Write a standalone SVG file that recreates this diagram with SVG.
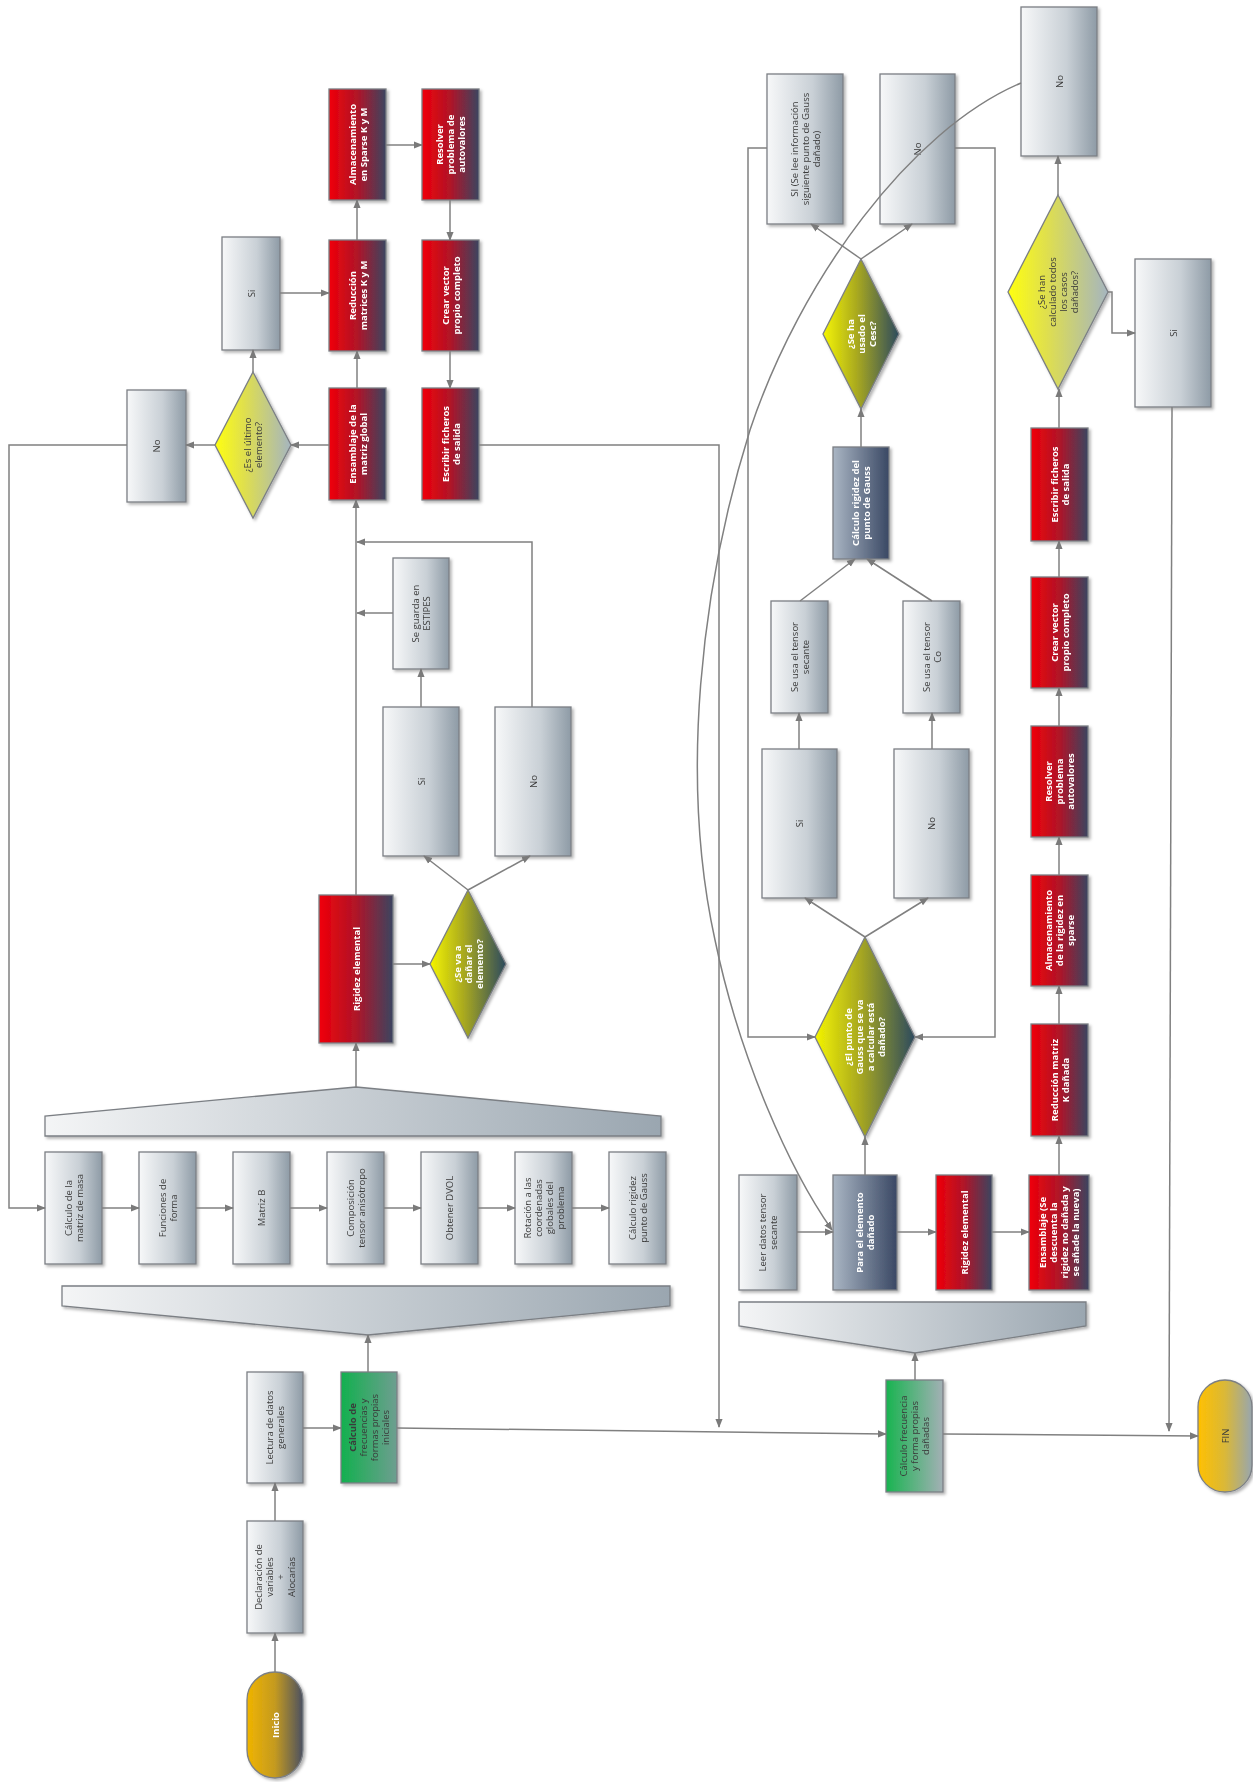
<svg xmlns="http://www.w3.org/2000/svg" width="1253" height="1782" viewBox="0 0 1253 1782">
<defs>
<style>
.b{stroke:#7b7f84;stroke-width:1.3}
.gy{fill:url(#gGray)}.rd{fill:url(#gRed)}.gn1{fill:url(#gGreen1)}.gn2{fill:url(#gGreen2)}
.ol{fill:url(#gOlive)}.ye{fill:url(#gYel)}.bl{fill:url(#gBlue)}.tp{fill:url(#gTrap)}
.c{fill:none;stroke:#808080;stroke-width:1.5;marker-end:url(#ar)}
.l{fill:none;stroke:#808080;stroke-width:1.5}
.t{font-family:"Open Sans","Liberation Sans",sans-serif;font-size:9.5px;fill:#3a3a3a;text-anchor:middle}
.w{fill:#ffffff;font-weight:bold}
.sh{filter:url(#sh)}
</style>
<marker id="ar" viewBox="0 0 10 10" refX="9" refY="5" markerWidth="6" markerHeight="6" orient="auto"><path d="M0,1 L10,5 L0,9 z" fill="#7a7a7a"/></marker>
<filter id="sh" x="-15%" y="-15%" width="140%" height="140%"><feDropShadow dx="2" dy="2" stdDeviation="1.5" flood-color="#000" flood-opacity="0.3"/></filter>
<linearGradient id="gGray"><stop offset="0" stop-color="#f7f8f9"/><stop offset="0.6" stop-color="#c9d0d6"/><stop offset="1" stop-color="#8e9ba6"/></linearGradient>
<linearGradient id="gRed"><stop offset="0" stop-color="#f00008"/><stop offset="0.5" stop-color="#b01428"/><stop offset="1" stop-color="#3a4560"/></linearGradient>
<linearGradient id="gGreen1"><stop offset="0" stop-color="#12b04e"/><stop offset="1" stop-color="#6e9e90"/></linearGradient>
<linearGradient id="gGreen2"><stop offset="0" stop-color="#18b450"/><stop offset="1" stop-color="#a3b0b5"/></linearGradient>
<linearGradient id="gOlive"><stop offset="0" stop-color="#f5f500"/><stop offset="0.45" stop-color="#a8a820"/><stop offset="1" stop-color="#2c4a5e"/></linearGradient>
<linearGradient id="gYel"><stop offset="0" stop-color="#ffff10"/><stop offset="0.4" stop-color="#dede50"/><stop offset="1" stop-color="#a5b5c0"/></linearGradient>
<linearGradient id="gBlue"><stop offset="0" stop-color="#aab6c4"/><stop offset="1" stop-color="#3a4864"/></linearGradient>
<linearGradient id="gIni"><stop offset="0" stop-color="#f0b400"/><stop offset="0.5" stop-color="#c49a20"/><stop offset="1" stop-color="#4a5062"/></linearGradient>
<linearGradient id="gFin"><stop offset="0" stop-color="#ffc000"/><stop offset="0.5" stop-color="#dab838"/><stop offset="1" stop-color="#98a6ae"/></linearGradient>
<linearGradient id="gTrap"><stop offset="0" stop-color="#f4f5f6"/><stop offset="1" stop-color="#9aa6b0"/></linearGradient>
</defs>
<rect width="1253" height="1782" fill="#ffffff"/>

<g id="inicio" class="sh"><rect class="b" x="247" y="1672" width="56" height="106" rx="28" fill="url(#gIni)"/>
<text class="t w" transform="translate(275,1725) rotate(-90)"><tspan x="0" y="3.5">Inicio</tspan></text></g>
<g id="declaracion" class="sh"><rect class="b gy" x="247" y="1521" width="56" height="112"/>
<text class="t" transform="translate(275,1577) rotate(-90)"><tspan x="0" y="-13">Declaración de</tspan><tspan x="0" y="-2">variables</tspan><tspan x="0" y="9">+</tspan><tspan x="0" y="20">Alocarías</tspan></text></g>
<g id="lectura" class="sh"><rect class="b gy" x="247" y="1372" width="56" height="111"/>
<text class="t" transform="translate(275,1427.5) rotate(-90)"><tspan x="0" y="-2">Lectura de datos</tspan><tspan x="0" y="9">generales</tspan></text></g>
<g id="calculo-inicial" class="sh"><rect class="b gn1" x="341" y="1372" width="56" height="111"/>
<text class="t" transform="translate(369,1427.5) rotate(-90)"><tspan x="0" y="-13" font-weight="bold">Cálculo de</tspan><tspan x="0" y="-2">frecuencias y</tspan><tspan x="0" y="9">formas propias</tspan><tspan x="0" y="20">iniciales</tspan></text></g>
<g id="trap-1" class="sh"><polygon class="b tp" points="62,1286 670,1286 670,1306 368,1335 62,1306"/></g>
<g id="trap-0" class="sh"><polygon class="b tp" points="45,1136 45,1116 356,1087 661,1116 661,1136"/></g>

<g id="masa" class="sh"><rect class="b gy" x="45" y="1152" width="57" height="112"/>
<text class="t" transform="translate(73.5,1208) rotate(-90)"><tspan x="0" y="-2">Cálculo de la</tspan><tspan x="0" y="9">matriz de masa</tspan></text></g>
<g id="funciones" class="sh"><rect class="b gy" x="139" y="1152" width="57" height="112"/>
<text class="t" transform="translate(167.5,1208) rotate(-90)"><tspan x="0" y="-2">Funciones de</tspan><tspan x="0" y="9">forma</tspan></text></g>
<g id="matrizb" class="sh"><rect class="b gy" x="233" y="1152" width="57" height="112"/>
<text class="t" transform="translate(261.5,1208) rotate(-90)"><tspan x="0" y="3.5">Matriz B</tspan></text></g>
<g id="composicion" class="sh"><rect class="b gy" x="327" y="1152" width="57" height="112"/>
<text class="t" transform="translate(355.5,1208) rotate(-90)"><tspan x="0" y="-2">Composición</tspan><tspan x="0" y="9">tensor anisótropo</tspan></text></g>
<g id="dvol" class="sh"><rect class="b gy" x="421" y="1152" width="57" height="112"/>
<text class="t" transform="translate(449.5,1208) rotate(-90)"><tspan x="0" y="3.5">Obtener DVOL</tspan></text></g>
<g id="rotacion" class="sh"><rect class="b gy" x="515" y="1152" width="57" height="112"/>
<text class="t" transform="translate(543.5,1208) rotate(-90)"><tspan x="0" y="-13">Rotación a las</tspan><tspan x="0" y="-2">coordenadas</tspan><tspan x="0" y="9">globales del</tspan><tspan x="0" y="20">problema</tspan></text></g>
<g id="rigidez-gauss" class="sh"><rect class="b gy" x="609" y="1152" width="57" height="112"/>
<text class="t" transform="translate(637.5,1208) rotate(-90)"><tspan x="0" y="-2">Cálculo rigidez</tspan><tspan x="0" y="9">punto de Gauss</tspan></text></g>

<g id="rigidez-el" class="sh"><rect class="b rd" x="319" y="895" width="74" height="148"/>
<text class="t w" transform="translate(356,969) rotate(-90)"><tspan x="0" y="3.5">Rigidez elemental</tspan></text></g>
<g id="danar" class="sh"><polygon class="b ol" points="468,890 506,964 468,1038 430,964"/>
<text class="t w" transform="translate(468,964) rotate(-90)"><tspan x="0" y="-7.5">¿Se va a</tspan><tspan x="0" y="3.5">dañar el</tspan><tspan x="0" y="14.5">elemento?</tspan></text></g>
<g id="si-danar" class="sh"><rect class="b gy" x="383" y="707" width="76" height="149"/>
<text class="t" transform="translate(421,781.5) rotate(-90)"><tspan x="0" y="3.5">Si</tspan></text></g>
<g id="no-danar" class="sh"><rect class="b gy" x="495" y="707" width="76" height="149"/>
<text class="t" transform="translate(533,781.5) rotate(-90)"><tspan x="0" y="3.5">No</tspan></text></g>
<g id="estipes" class="sh"><rect class="b gy" x="393" y="558" width="56" height="111"/>
<text class="t" transform="translate(421,613.5) rotate(-90)"><tspan x="0" y="-2">Se guarda en</tspan><tspan x="0" y="9">ESTIPES</tspan></text></g>

<g id="ensamblaje" class="sh"><rect class="b rd" x="329" y="388" width="57" height="112"/>
<text class="t w" transform="translate(357.5,444) rotate(-90)"><tspan x="0" y="-2">Ensamblaje de la</tspan><tspan x="0" y="9">matriz global</tspan></text></g>
<g id="reduccion" class="sh"><rect class="b rd" x="329" y="240" width="57" height="111"/>
<text class="t w" transform="translate(357.5,295.5) rotate(-90)"><tspan x="0" y="-2">Reducción</tspan><tspan x="0" y="9">matrices K y M</tspan></text></g>
<g id="almacenamiento" class="sh"><rect class="b rd" x="329" y="89" width="57" height="111"/>
<text class="t w" transform="translate(357.5,144.5) rotate(-90)"><tspan x="0" y="-2">Almacenamiento</tspan><tspan x="0" y="9">en Sparse K y M</tspan></text></g>
<g id="resolver" class="sh"><rect class="b rd" x="422" y="89" width="57" height="111"/>
<text class="t w" transform="translate(450.5,144.5) rotate(-90)"><tspan x="0" y="-7.5">Resolver</tspan><tspan x="0" y="3.5">problema de</tspan><tspan x="0" y="14.5">autovalores</tspan></text></g>
<g id="crear" class="sh"><rect class="b rd" x="422" y="240" width="57" height="111"/>
<text class="t w" transform="translate(450.5,295.5) rotate(-90)"><tspan x="0" y="-2">Crear vector</tspan><tspan x="0" y="9">propio completo</tspan></text></g>
<g id="escribir" class="sh"><rect class="b rd" x="422" y="388" width="57" height="112"/>
<text class="t w" transform="translate(450.5,444) rotate(-90)"><tspan x="0" y="-2">Escribir ficheros</tspan><tspan x="0" y="9">de salida</tspan></text></g>
<g id="ultimo" class="sh"><polygon class="b ye" points="253,372 291,445 253,518 215,445"/>
<text class="t" transform="translate(253,445) rotate(-90)"><tspan x="0" y="-2">¿Es el último</tspan><tspan x="0" y="9">elemento?</tspan></text></g>
<g id="si-ultimo" class="sh"><rect class="b gy" x="222" y="237" width="58" height="113"/>
<text class="t" transform="translate(251,293.5) rotate(-90)"><tspan x="0" y="3.5">Si</tspan></text></g>
<g id="no-ultimo" class="sh"><rect class="b gy" x="127" y="390" width="59" height="112"/>
<text class="t" transform="translate(156.5,446) rotate(-90)"><tspan x="0" y="3.5">No</tspan></text></g>

<g id="calculo-danadas" class="sh"><rect class="b gn2" x="886" y="1380" width="57" height="112"/>
<text class="t" transform="translate(914.5,1436) rotate(-90)"><tspan x="0" y="-7.5">Cálculo frecuencia</tspan><tspan x="0" y="3.5">y forma propias</tspan><tspan x="0" y="14.5">dañadas</tspan></text></g>
<g id="trap-2" class="sh"><polygon class="b tp" points="739,1302 1086,1302 1086,1326 915,1353 739,1326"/></g>
<g id="leer" class="sh"><rect class="b gy" x="739" y="1175" width="58" height="115"/>
<text class="t" transform="translate(768,1232.5) rotate(-90)"><tspan x="0" y="-2">Leer datos tensor</tspan><tspan x="0" y="9">secante</tspan></text></g>
<g id="para" class="sh"><rect class="b bl" x="833" y="1175" width="64" height="115"/>
<text class="t w" transform="translate(865,1232.5) rotate(-90)"><tspan x="0" y="-2">Para el elemento</tspan><tspan x="0" y="9">dañado</tspan></text></g>
<g id="rigidez-el-2" class="sh"><rect class="b rd" x="936" y="1175" width="56" height="115"/>
<text class="t w" transform="translate(964,1232.5) rotate(-90)"><tspan x="0" y="3.5">Rigidez elemental</tspan></text></g>
<g id="ensamblaje-2" class="sh"><rect class="b rd" x="1029" y="1175" width="60" height="115"/>
<text class="t w" transform="translate(1059,1232.5) rotate(-90)"><tspan x="0" y="-13">Ensamblaje (Se</tspan><tspan x="0" y="-2">descuenta la</tspan><tspan x="0" y="9">rigidez no dañada y</tspan><tspan x="0" y="20">se añade la nueva)</tspan></text></g>
<g id="reduccion-2" class="sh"><rect class="b rd" x="1031" y="1024" width="57" height="112"/>
<text class="t w" transform="translate(1059.5,1080) rotate(-90)"><tspan x="0" y="-2">Reducción matriz</tspan><tspan x="0" y="9">K dañada</tspan></text></g>
<g id="almacenamiento-2" class="sh"><rect class="b rd" x="1031" y="875" width="57" height="111"/>
<text class="t w" transform="translate(1059.5,930.5) rotate(-90)"><tspan x="0" y="-7.5">Almacenamiento</tspan><tspan x="0" y="3.5">de la rigidez en</tspan><tspan x="0" y="14.5">sparse</tspan></text></g>
<g id="resolver-2" class="sh"><rect class="b rd" x="1031" y="726" width="57" height="111"/>
<text class="t w" transform="translate(1059.5,781.5) rotate(-90)"><tspan x="0" y="-7.5">Resolver</tspan><tspan x="0" y="3.5">problema</tspan><tspan x="0" y="14.5">autovalores</tspan></text></g>
<g id="crear-2" class="sh"><rect class="b rd" x="1031" y="577" width="57" height="111"/>
<text class="t w" transform="translate(1059.5,632.5) rotate(-90)"><tspan x="0" y="-2">Crear vector</tspan><tspan x="0" y="9">propio completo</tspan></text></g>
<g id="escribir-2" class="sh"><rect class="b rd" x="1031" y="428" width="57" height="113"/>
<text class="t w" transform="translate(1059.5,484.5) rotate(-90)"><tspan x="0" y="-2">Escribir ficheros</tspan><tspan x="0" y="9">de salida</tspan></text></g>

<g id="gauss-danado" class="sh"><polygon class="b ol" points="865,937 915,1037 865,1137 815,1037"/>
<text class="t w" transform="translate(865,1037) rotate(-90)"><tspan x="0" y="-13">¿El punto de</tspan><tspan x="0" y="-2">Gauss que se va</tspan><tspan x="0" y="9">a calcular está</tspan><tspan x="0" y="20">dañado?</tspan></text></g>
<g id="si-gauss" class="sh"><rect class="b gy" x="762" y="749" width="75" height="149"/>
<text class="t" transform="translate(799.5,823.5) rotate(-90)"><tspan x="0" y="3.5">Si</tspan></text></g>
<g id="no-gauss" class="sh"><rect class="b gy" x="894" y="749" width="75" height="149"/>
<text class="t" transform="translate(931.5,823.5) rotate(-90)"><tspan x="0" y="3.5">No</tspan></text></g>
<g id="secante" class="sh"><rect class="b gy" x="771" y="601" width="57" height="112"/>
<text class="t" transform="translate(799.5,657) rotate(-90)"><tspan x="0" y="-2">Se usa el tensor</tspan><tspan x="0" y="9">secante</tspan></text></g>
<g id="tensor-co" class="sh"><rect class="b gy" x="903" y="601" width="57" height="112"/>
<text class="t" transform="translate(931.5,657) rotate(-90)"><tspan x="0" y="-2">Se usa el tensor</tspan><tspan x="0" y="9">Co</tspan></text></g>
<g id="calc-gauss" class="sh"><rect class="b bl" x="833" y="447" width="56" height="112"/>
<text class="t w" transform="translate(861,503) rotate(-90)"><tspan x="0" y="-2">Cálculo rigidez del</tspan><tspan x="0" y="9">punto de Gauss</tspan></text></g>
<g id="cesc" class="sh"><polygon class="b ol" points="861,259 899,334 861,409 823,334"/>
<text class="t w" transform="translate(861,334) rotate(-90)"><tspan x="0" y="-7.5">¿Se ha</tspan><tspan x="0" y="3.5">usado el</tspan><tspan x="0" y="14.5">Cesc?</tspan></text></g>
<g id="si-cesc" class="sh"><rect class="b gy" x="767" y="74" width="76" height="150"/>
<text class="t" transform="translate(805,149) rotate(-90)"><tspan x="0" y="-7.5">SI (Se lee información</tspan><tspan x="0" y="3.5">siguiente punto de Gauss</tspan><tspan x="0" y="14.5">dañado)</tspan></text></g>
<g id="no-cesc" class="sh"><rect class="b gy" x="880" y="74" width="75" height="150"/>
<text class="t" transform="translate(917.5,149) rotate(-90)"><tspan x="0" y="3.5">No</tspan></text></g>
<g id="casos" class="sh"><polygon class="b ye" points="1058,195 1108,292 1058,389 1008,292"/>
<text class="t" transform="translate(1058,292) rotate(-90)"><tspan x="0" y="-13">¿Se han</tspan><tspan x="0" y="-2">calculado todos</tspan><tspan x="0" y="9">los casos</tspan><tspan x="0" y="20">dañados?</tspan></text></g>
<g id="no-casos" class="sh"><rect class="b gy" x="1021" y="7" width="76" height="149"/>
<text class="t" transform="translate(1059,81.5) rotate(-90)"><tspan x="0" y="3.5">No</tspan></text></g>
<g id="si-casos" class="sh"><rect class="b gy" x="1135" y="259" width="76" height="148"/>
<text class="t" transform="translate(1173,333) rotate(-90)"><tspan x="0" y="3.5">Si</tspan></text></g>
<g id="fin" class="sh"><rect class="b" x="1198" y="1380" width="54" height="112" rx="27" fill="url(#gFin)"/>
<text class="t" transform="translate(1225,1436) rotate(-90)"><tspan x="0" y="3.5">FIN</tspan></text></g>

<g id="connectors">
<line class="c" x1="275" y1="1672" x2="275" y2="1633"/>
<line class="c" x1="275" y1="1521" x2="275" y2="1483"/>
<line class="c" x1="303" y1="1428" x2="341" y2="1428"/>
<line class="c" x1="368" y1="1372" x2="368" y2="1335"/>
<line class="c" x1="102" y1="1208" x2="139" y2="1208"/>
<line class="c" x1="196" y1="1208" x2="233" y2="1208"/>
<line class="c" x1="290" y1="1208" x2="327" y2="1208"/>
<line class="c" x1="384" y1="1208" x2="421" y2="1208"/>
<line class="c" x1="478" y1="1208" x2="515" y2="1208"/>
<line class="c" x1="572" y1="1208" x2="609" y2="1208"/>
<polyline class="c" points="127,445 9,445 9,1208 45,1208"/>
<line class="c" x1="356" y1="1087" x2="356" y2="1043"/>
<line class="c" x1="393" y1="964" x2="430" y2="964"/>
<line class="c" x1="356" y1="895" x2="356" y2="500"/>
<line class="c" x1="468" y1="890" x2="424" y2="856"/>
<line class="c" x1="468" y1="890" x2="530" y2="856"/>
<line class="c" x1="421" y1="707" x2="421" y2="669"/>
<line class="c" x1="393" y1="613" x2="357" y2="613"/>
<polyline class="c" points="532,707 532,542 357,542"/>
<line class="c" x1="329" y1="445" x2="291" y2="445"/>
<line class="c" x1="215" y1="445" x2="186" y2="445"/>
<line class="c" x1="253" y1="372" x2="253" y2="350"/>
<line class="c" x1="280" y1="293" x2="329" y2="293"/>
<line class="c" x1="357" y1="388" x2="357" y2="351"/>
<line class="c" x1="357" y1="240" x2="357" y2="200"/>
<line class="c" x1="386" y1="145" x2="422" y2="145"/>
<line class="c" x1="450" y1="200" x2="450" y2="240"/>
<line class="c" x1="450" y1="351" x2="450" y2="388"/>
<polyline class="c" points="479,445 719,445 719,1427"/>
<line class="c" x1="397" y1="1428" x2="886" y2="1434"/>
<line class="c" x1="915" y1="1380" x2="915" y2="1353"/>
<line class="c" x1="797" y1="1232" x2="833" y2="1232"/>
<line class="c" x1="897" y1="1232" x2="936" y2="1232"/>
<line class="c" x1="992" y1="1232" x2="1029" y2="1232"/>
<line class="c" x1="865" y1="1175" x2="865" y2="1137"/>
<line class="c" x1="1059" y1="1175" x2="1059" y2="1136"/>
<line class="c" x1="1059" y1="1024" x2="1059" y2="986"/>
<line class="c" x1="1059" y1="875" x2="1059" y2="837"/>
<line class="c" x1="1059" y1="726" x2="1059" y2="688"/>
<line class="c" x1="1059" y1="577" x2="1059" y2="541"/>
<line class="c" x1="1059" y1="428" x2="1059" y2="389"/>
<line class="c" x1="865" y1="937" x2="805" y2="898"/>
<line class="c" x1="865" y1="937" x2="928" y2="898"/>
<line class="c" x1="799" y1="749" x2="799" y2="713"/>
<line class="c" x1="932" y1="749" x2="932" y2="713"/>
<line class="c" x1="800" y1="601" x2="855" y2="559"/>
<line class="c" x1="932" y1="601" x2="867" y2="559"/>
<line class="c" x1="861" y1="447" x2="861" y2="409"/>
<line class="c" x1="861" y1="259" x2="811" y2="224"/>
<line class="c" x1="861" y1="259" x2="912" y2="224"/>
<polyline class="c" points="767,148 748,148 748,1037 815,1037"/>
<polyline class="c" points="955,148 995,148 995,1037 915,1037"/>
<line class="c" x1="1058" y1="195" x2="1058" y2="156"/>
<polyline class="c" points="1108,292 1112,292 1112,333 1135,333"/>
<line class="c" x1="1172" y1="407" x2="1169" y2="1431"/>
<line class="c" x1="943" y1="1434" x2="1198" y2="1436"/>
<path class="c" d="M1021,83 C910,130 800,280 750,430 C700,590 680,780 715,940 C740,1060 790,1170 832,1230"/>
</g>
</svg>
